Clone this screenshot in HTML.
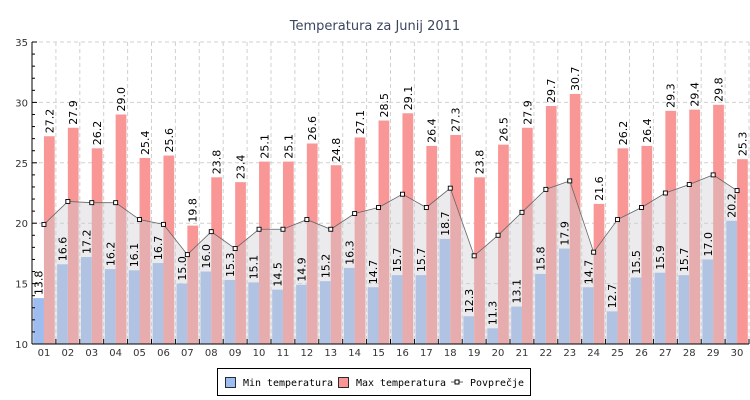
<!DOCTYPE html>
<html><head><meta charset="utf-8"><style>
body{margin:0;background:#fff;width:750px;height:400px;overflow:hidden}
svg{display:block;font-family:"DejaVu Sans","Liberation Sans",sans-serif}
</style></head><body>
<svg id="c" width="750" height="400" xmlns="http://www.w3.org/2000/svg"></svg>
<script>
const mn=[13.8,16.6,17.2,16.2,16.1,16.7,15.0,16.0,15.3,15.1,14.5,14.9,15.2,16.3,14.7,15.7,15.7,18.7,12.3,11.3,13.1,15.8,17.9,14.7,12.7,15.5,15.9,15.7,17.0,20.2];
const mx=[27.2,27.9,26.2,29.0,25.4,25.6,19.8,23.8,23.4,25.1,25.1,26.6,24.8,27.1,28.5,29.1,26.4,27.3,23.8,26.5,27.9,29.7,30.7,21.6,26.2,26.4,29.3,29.4,29.8,25.3];
const av=[19.9,21.8,21.7,21.7,20.3,19.9,17.4,19.3,17.9,19.5,19.5,20.3,19.5,20.8,21.3,22.4,21.3,22.9,17.3,19.0,20.9,22.8,23.5,17.6,20.3,21.3,22.5,23.2,24.0,22.7];
const L=32,R=749,T=42,B=344,W=(R-L)/30;
const y=v=>B-(v-10)*(B-T)/25;
let s='';
s+=`<text x="375" y="30" text-anchor="middle" font-size="13" fill="#3a4660">Temperatura za Junij 2011</text>`;
for(let v=15;v<=35;v+=5)s+=`<line x1="${L}" x2="${R}" y1="${y(v)}" y2="${y(v)}" stroke="#d0d0d0" stroke-dasharray="4,3"/>`;
for(let i=1;i<=30;i++){let x=L+i*W;s+=`<line x1="${x}" x2="${x}" y1="${T}" y2="${B}" stroke="#d0d0d0" stroke-dasharray="4,3"/>`;}
for(let i=0;i<30;i++){let x0=L+i*W+1.2,bw=(W-2.4)/2;
s+=`<rect x="${x0}" y="${y(mn[i])}" width="${bw}" height="${B-y(mn[i])}" fill="#9dbcef"/>`;
s+=`<rect x="${x0+bw}" y="${y(mx[i])}" width="${bw}" height="${B-y(mx[i])}" fill="#f99797"/>`;}
let pts=av.map((v,i)=>[L+i*W+W/2,y(v)]);
s+=`<path d="M${pts[0][0]},${B} L${pts.map(p=>p.join(',')).join(' L')} L${pts[29][0]},${B}Z" fill="rgba(205,205,210,0.4)"/>`;
s+=`<polyline points="${pts.map(p=>p.join(',')).join(' ')}" fill="none" stroke="#666" stroke-width="0.8"/>`;
pts.forEach(p=>s+=`<rect x="${p[0]-2}" y="${p[1]-2}" width="4" height="4" fill="#fff" stroke="#000" stroke-width="0.9"/>`);
for(let i=0;i<30;i++){let x0=L+i*W+1.2,bw=(W-2.4)/2;
[[mn[i],x0+bw/2],[mx[i],x0+bw*1.5]].forEach(([v,cx])=>{let ty=y(v)-3;
s+=`<text transform="translate(${cx+4},${ty}) rotate(-90)" font-size="11" fill="#000">${v.toFixed(1)}</text>`;});}
s+=`<line x1="${L}" x2="${L}" y1="${T}" y2="${B}" stroke="#000"/><line x1="${L}" x2="${R}" y1="${B}" y2="${B}" stroke="#000"/>`;
for(let v=10;v<=35;v++){let yy=y(v);s+=`<line x1="${L}" x2="${L+(v%5?3:5)}" y1="${yy}" y2="${yy}" stroke="#000"/>`;
if(v%5==0)s+=`<text x="${L-4}" y="${yy+4}" text-anchor="end" font-size="10" fill="#333">${v}</text>`;}
for(let i=0;i<30;i++){let x=L+(i+1)*W;s+=`<line x1="${x}" x2="${x}" y1="${B}" y2="${B-5}" stroke="#000"/>`;
s+=`<text x="${L+i*W+W/2}" y="${B+12}" text-anchor="middle" font-size="10" fill="#333">${String(i+1).padStart(2,'0')}</text>`;}
const F='font-size="10" font-family="DejaVu Sans Mono,Liberation Mono,monospace" lengthAdjust="spacingAndGlyphs"';
s+=`<rect x="217.5" y="368.5" width="313" height="27" fill="#fff" stroke="#000"/>`;
s+=`<rect x="225.5" y="377.5" width="10" height="10" fill="#9dbcef" stroke="#000" stroke-width="0.8"/><text x="243" y="386" ${F} textLength="90">Min temperatura</text>`;
s+=`<rect x="338.5" y="377.5" width="10" height="10" fill="#f99797" stroke="#000" stroke-width="0.8"/><text x="356" y="386" ${F} textLength="90">Max temperatura</text>`;
s+=`<line x1="451" x2="463" y1="382" y2="382" stroke="#666"/><rect x="455" y="380" width="4" height="4" fill="#fff" stroke="#000"/><text x="470" y="386" ${F} textLength="54">Povprečje</text>`;
document.getElementById('c').innerHTML=s;
</script>
</body></html>
